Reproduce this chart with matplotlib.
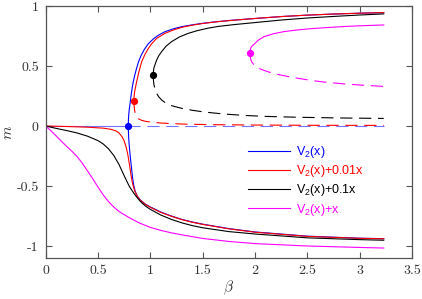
import warnings
warnings.filterwarnings("ignore")
import matplotlib
matplotlib.use("Agg")
import matplotlib.pyplot as plt

# ---------------- data ----------------
# V2(x)  (blue)
blue_up_b = [0.789, 0.7905, 0.7935, 0.798, 0.805, 0.815, 0.825, 0.837, 0.85, 0.865, 0.885, 0.91, 0.94, 0.98, 1.03, 1.08, 1.14, 1.22, 1.30, 1.4, 1.5, 1.62, 1.75, 2.0, 2.25, 2.5, 2.75, 3.0, 3.23]
blue_up_m = [0.0, 0.05, 0.095, 0.135, 0.18, 0.25, 0.31, 0.37, 0.42, 0.47, 0.53, 0.585, 0.635, 0.685, 0.727, 0.758, 0.786, 0.81, 0.828, 0.843, 0.856, 0.868, 0.879, 0.896, 0.912, 0.924, 0.933, 0.94, 0.945]
blue_lo_b = [0.789, 0.7905, 0.793, 0.797, 0.803, 0.81, 0.82, 0.83, 0.84, 0.855, 0.875, 0.90, 0.95, 1.0, 1.1, 1.2, 1.3, 1.4, 1.5, 1.75, 2.0, 2.5, 3.0, 3.23]
blue_lo_m = [0.0, -0.05, -0.10, -0.15, -0.21, -0.27, -0.35, -0.43, -0.49, -0.545, -0.585, -0.613, -0.65, -0.675, -0.717, -0.75, -0.778, -0.80, -0.818, -0.855, -0.883, -0.918, -0.935, -0.939]
blue_zero_stable_b = [0.0, 0.789]
blue_zero_stable_m = [0.0, 0.0]
blue_zero_unstable_b = [0.789, 3.23]
blue_zero_unstable_m = [0.0, 0.0]
blue_crit = (0.789, 0.0)

# V2(x)+0.01x  (red)
red_lo_b = [0.0, 0.2, 0.4, 0.55, 0.62, 0.67, 0.70, 0.73, 0.75, 0.77, 0.785, 0.80, 0.815, 0.83, 0.85, 0.875, 0.90, 0.95, 1.0, 1.1, 1.2, 1.3, 1.4, 1.5, 1.75, 2.0, 2.5, 3.0, 3.23]
red_lo_m = [0.0, -0.004, -0.01, -0.018, -0.027, -0.04, -0.058, -0.09, -0.125, -0.18, -0.24, -0.32, -0.41, -0.48, -0.54, -0.585, -0.615, -0.652, -0.678, -0.72, -0.752, -0.78, -0.802, -0.82, -0.857, -0.885, -0.92, -0.936, -0.94]
red_up_b = [0.843, 0.8435, 0.845, 0.848, 0.855, 0.869, 0.89, 0.917, 0.95, 0.98, 1.012, 1.06, 1.139, 1.22, 1.30, 1.4, 1.5, 1.62, 1.75, 2.0, 2.25, 2.5, 2.75, 3.0, 3.23]
red_up_m = [0.211, 0.232, 0.25, 0.275, 0.31, 0.37, 0.45, 0.536, 0.60, 0.645, 0.685, 0.73, 0.772, 0.80, 0.822, 0.84, 0.854, 0.867, 0.878, 0.896, 0.912, 0.924, 0.933, 0.94, 0.945]
red_un_b = [0.843, 0.8435, 0.845, 0.848, 0.853, 0.86, 0.87, 0.89, 0.92, 0.96, 1.02, 1.1, 1.2, 1.35, 1.6, 2.0, 2.5, 3.23]
red_un_m = [0.211, 0.19, 0.165, 0.14, 0.115, 0.093, 0.075, 0.058, 0.046, 0.038, 0.031, 0.025, 0.02, 0.015, 0.011, 0.008, 0.006, 0.005]
red_fold = (0.843, 0.211)

# V2(x)+0.1x  (black)
blk_lo_b = [0.0, 0.1, 0.2, 0.3, 0.4, 0.5, 0.55, 0.6, 0.65, 0.7, 0.75, 0.8, 0.85, 0.9, 0.95, 1.0, 1.1, 1.2, 1.3, 1.4, 1.5, 1.75, 2.0, 2.5, 3.0, 3.23]
blk_lo_m = [0.0, -0.02, -0.038, -0.058, -0.085, -0.122, -0.15, -0.19, -0.245, -0.32, -0.415, -0.505, -0.57, -0.625, -0.665, -0.695, -0.742, -0.778, -0.807, -0.83, -0.848, -0.88, -0.90, -0.932, -0.947, -0.952]
blk_up_b = [1.028, 1.0285, 1.030, 1.034, 1.044, 1.06, 1.08, 1.108, 1.15, 1.203, 1.28, 1.362, 1.45, 1.55, 1.65, 1.8, 2.0, 2.25, 2.5, 2.75, 3.0, 3.23]
blk_up_m = [0.422, 0.44, 0.46, 0.485, 0.51, 0.55, 0.585, 0.62, 0.665, 0.703, 0.743, 0.772, 0.795, 0.815, 0.83, 0.845, 0.862, 0.883, 0.90, 0.913, 0.925, 0.934]
blk_un_b = [1.028, 1.0285, 1.030, 1.034, 1.044, 1.06, 1.08, 1.11, 1.15, 1.2, 1.3, 1.4, 1.52, 1.7, 1.9, 2.1, 2.4, 2.8, 3.23]
blk_un_m = [0.422, 0.40, 0.375, 0.345, 0.31, 0.272, 0.243, 0.215, 0.19, 0.17, 0.147, 0.131, 0.116, 0.10, 0.088, 0.08, 0.073, 0.067, 0.063]
blk_fold = (1.028, 0.422)

# V2(x)+x  (magenta)
mag_lo_b = [0.0, 0.05, 0.1, 0.15, 0.2, 0.25, 0.3, 0.35, 0.4, 0.45, 0.5, 0.55, 0.6, 0.65, 0.7, 0.8, 0.9, 1.0, 1.1, 1.2, 1.3, 1.5, 1.75, 2.0, 2.5, 3.0, 3.23]
mag_lo_m = [0.0, -0.04, -0.083, -0.127, -0.17, -0.21, -0.255, -0.31, -0.375, -0.44, -0.51, -0.575, -0.63, -0.675, -0.712, -0.765, -0.81, -0.845, -0.87, -0.89, -0.907, -0.937, -0.962, -0.98, -1.0, -1.012, -1.017]
mag_up_b = [1.954, 1.9545, 1.956, 1.96, 1.97, 1.993, 2.03, 2.088, 2.18, 2.28, 2.4, 2.534, 2.7, 2.852, 3.0, 3.23]
mag_up_m = [0.606, 0.625, 0.64, 0.652, 0.665, 0.683, 0.715, 0.745, 0.77, 0.787, 0.80, 0.811, 0.821, 0.829, 0.835, 0.842]
mag_un_b = [1.954, 1.9545, 1.956, 1.96, 1.97, 1.99, 2.02, 2.056, 2.13, 2.216, 2.3, 2.407, 2.55, 2.693, 2.85, 3.01, 3.23]
mag_un_m = [0.606, 0.588, 0.57, 0.553, 0.533, 0.51, 0.49, 0.473, 0.45, 0.43, 0.415, 0.398, 0.378, 0.363, 0.351, 0.341, 0.33]
mag_fold = (1.954, 0.606)

labels = ["V$_2$(x)", "V$_2$(x)+0.01x", "V$_2$(x)+0.1x", "V$_2$(x)+x"]
xticks = [0, 0.5, 1, 1.5, 2, 2.5, 3, 3.5]
yticks = [-1, -0.5, 0, 0.5, 1]

# ---------------- style ----------------
plt.rcParams['mathtext.fontset'] = 'custom'
plt.rcParams['mathtext.rm'] = 'Liberation Sans'
plt.rcParams['mathtext.it'] = 'Liberation Sans:italic'
plt.rcParams['axes.unicode_minus'] = False
plt.rcParams['axes.formatter.use_mathtext'] = False

C_B, C_R, C_K, C_M = '#0000ff', '#ff0000', '#000000', '#ff00ff'
LW = 0.8
DASH = (0, (11, 6))

fig = plt.figure(figsize=(4.22, 2.99), dpi=100)
ax = fig.add_axes([45.7/422, 1-258/299, (412-45.7)/422, (258-6)/299])

# blue
ax.plot(blue_zero_stable_b, blue_zero_stable_m, color=C_B, lw=LW, alpha=0.55)
ax.plot(blue_zero_unstable_b, blue_zero_unstable_m, color=C_B, lw=LW, alpha=0.55, linestyle=DASH)
lb, = ax.plot(blue_lo_b, blue_lo_m, color=C_B, lw=LW, label=labels[0])
ax.plot(blue_up_b, blue_up_m, color=C_B, lw=LW)
# red
lr, = ax.plot(red_lo_b, red_lo_m, color=C_R, lw=LW, label=labels[1])
ax.plot(red_up_b, red_up_m, color=C_R, lw=LW)
ax.plot(red_un_b, red_un_m, color=C_R, lw=LW, linestyle=DASH)
# black
lk, = ax.plot(blk_lo_b, blk_lo_m, color=C_K, lw=LW, label=labels[2])
ax.plot(blk_up_b, blk_up_m, color=C_K, lw=LW)
ax.plot(blk_un_b, blk_un_m, color=C_K, lw=LW, linestyle=DASH)
# magenta
lm, = ax.plot(mag_lo_b, mag_lo_m, color=C_M, lw=LW, label=labels[3])
ax.plot(mag_up_b, mag_up_m, color=C_M, lw=LW)
ax.plot(mag_un_b, mag_un_m, color=C_M, lw=LW, linestyle=DASH)

# bifurcation points
for (pb, pm), c in [(blue_crit, C_B), (red_fold, C_R), (blk_fold, C_K), (mag_fold, C_M)]:
    ax.plot([pb], [pm], 'o', color=c, markersize=4.2, zorder=5)

ax.set_xlim(0, 3.5)
ax.set_ylim(-1.1, 1)
ax.set_xticks(xticks)
ax.set_yticks(yticks)
ax.set_xticklabels([f"{v:g}" for v in xticks])
ax.set_yticklabels([f"{v:g}" for v in yticks])
for t in ax.get_xticklabels() + ax.get_yticklabels():
    t.set_fontfamily('cmr10')
    t.set_fontsize(10)
    t.set_color('#333333')
ax.tick_params(direction='in', length=4, width=0.8, color='#555555', top=True, right=True, pad=5)
for s in ax.spines.values():
    s.set_color('#555555')
    s.set_linewidth(0.9)

xl = ax.set_xlabel(r'$\beta$', fontsize=11, color='#333333', labelpad=1)
yl = ax.set_ylabel(r'$m$', fontsize=11, color='#333333', labelpad=1)
xl.set_math_fontfamily('cm')
yl.set_math_fontfamily('cm')

leg = ax.legend(handles=[lb, lr, lk, lm], loc='upper left',
                bbox_to_anchor=(248/422, 1-144/299), bbox_transform=fig.transFigure,
                frameon=False, handlelength=3.35, handletextpad=0.45,
                labelspacing=0.26, borderpad=0, borderaxespad=0,
                prop={'family': 'Liberation Sans', 'size': 9})
for t, c in zip(leg.get_texts(), [C_B, C_R, C_K, C_M]):
    t.set_color(c)

fig.savefig('out.png', dpi=100)
